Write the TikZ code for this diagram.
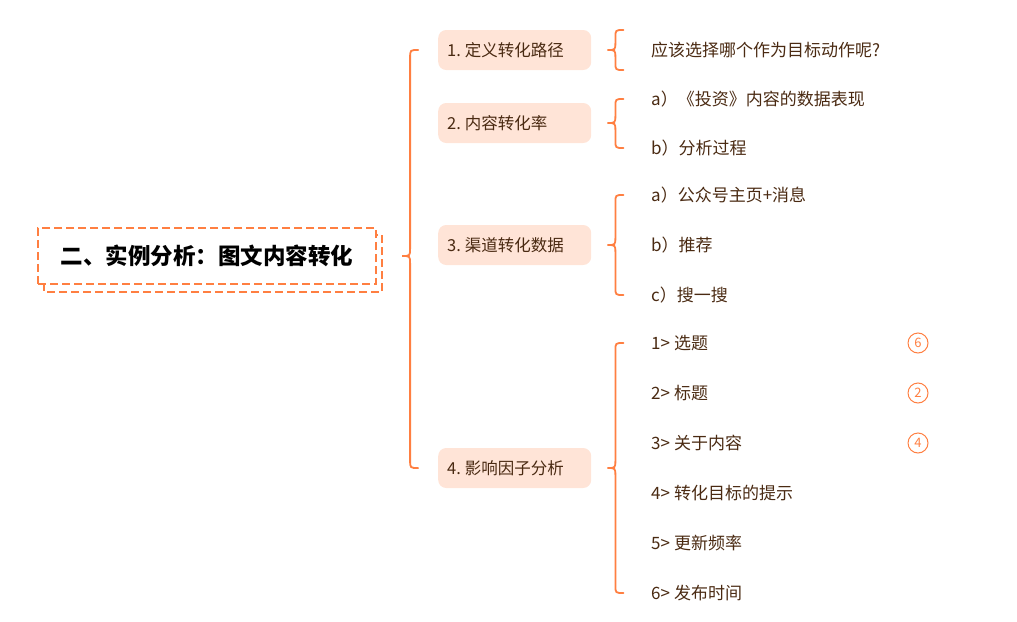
\documentclass[tikz,border=0pt]{standalone}
\usepackage{fontspec}
\setmainfont{Noto Sans CJK SC}
\usetikzlibrary{calc}
\definecolor{org}{HTML}{FF7F41}
\definecolor{pch}{HTML}{FFE4D7}
\definecolor{brn}{HTML}{4A2A12}
\newcommand{\brc}[4]{%
  \draw[br] let \p1=(#1.east), \p2=(#2), \p3=(#3) in
  (\x1+#4+16pt,\y2) .. controls (\x1+#4+8pt,\y2) .. (\x1+#4+8pt,\y2-8pt)
  -- (\x1+#4+8pt,\y1+8pt) .. controls (\x1+#4+8pt,\y1) .. (\x1+#4,\y1)
  .. controls (\x1+#4+8pt,\y1) .. (\x1+#4+8pt,\y1-8pt)
  -- (\x1+#4+8pt,\y3+8pt) .. controls (\x1+#4+8pt,\y3) .. (\x1+#4+16pt,\y3);}
\newcommand{\gapsp}{\hspace{4pt}}
\begin{document}
\begin{tikzpicture}[x=1pt,y=-1pt,
  br/.style={draw=org,line width=1.8pt,line cap=round},
  rootbox/.style={draw=org,line width=2.2pt,dash pattern=on 8pt off 4pt},
  root/.style={rootbox,fill=white,minimum width=338pt,minimum height=56pt,inner sep=0pt,
    font=\fontsize{22.5}{22.5}\selectfont\bfseries,text=black},
  kid/.style={fill=pch,rounded corners=8pt,minimum height=40pt,text width=135pt,inner xsep=9pt,
    inner ysep=0pt,anchor=west,align=left,text=brn,font=\fontsize{16.5}{16.5}\selectfont},
  leaf/.style={anchor=west,inner sep=0pt,text=brn,font=\fontsize{17}{17}\selectfont},
  circ/.style={circle,draw=org,line width=1pt,minimum size=20pt,inner sep=0pt,text=org,
    font=\fontsize{13}{13}\selectfont}]
\useasboundingbox (0,0) rectangle (1017,621);
% root
\draw[rootbox] (44,235) rectangle (382,292);
\node[root] (root) at (207,256) {二、实例分析：图文内容转化};
% children
\node[kid] (c1) at (438,50) {1.\gapsp{}定义转化路径};
\node[kid] (c2) at (438,123) {2.\gapsp{}内容转化率};
\node[kid] (c3) at (438,245) {3.\gapsp{}渠道转化数据};
\node[kid] (c4) at (438,468) {4.\gapsp{}影响因子分析};
% leaves
\node[leaf] (l1) at (651,50) {应该选择哪个作为目标动作呢?};
\node[leaf] (l2a) at (651,99) {a）《投资》内容的数据表现};
\node[leaf] (l2b) at (651,148) {b）分析过程};
\node[leaf] (l3a) at (651,195) {a）公众号主页+消息};
\node[leaf] (l3b) at (651,245) {b）推荐};
\node[leaf] (l3c) at (651,295) {c）搜一搜};
\node[leaf] (l4a) at (651,343) {1>\gapsp{}选题};
\node[leaf] (l4b) at (651,393) {2>\gapsp{}标题};
\node[leaf] (l4c) at (651,443) {3>\gapsp{}关于内容};
\node[leaf] (l4d) at (651,493) {4>\gapsp{}转化目标的提示};
\node[leaf] (l4e) at (651,543) {5>\gapsp{}更新频率};
\node[leaf] (l4f) at (651,593) {6>\gapsp{}发布时间};
% markers
\node[circ] (m1) at (918,343) {6};
\node[circ] (m2) at (918,393) {2};
\node[circ] (m3) at (918,443) {4};
% braces
\brc{root}{c1.west}{c4.west}{25pt}
\brc{c1}{$(l1.west)+(0,-20)$}{$(l1.west)+(0,20)$}{16pt}
\brc{c2}{l2a.west}{l2b.west}{16pt}
\brc{c3}{l3a.west}{l3c.west}{16pt}
\brc{c4}{l4a.west}{l4f.west}{16pt}
\end{tikzpicture}
\end{document}
